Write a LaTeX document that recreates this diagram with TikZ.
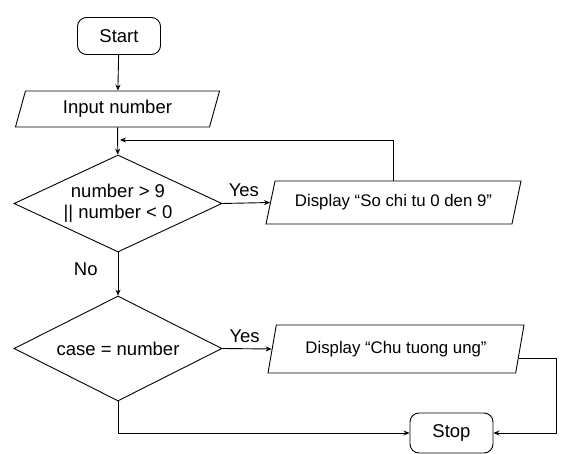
\documentclass[tikz,border=0pt]{standalone}
\usepackage{fontspec}
\setmainfont{Liberation Sans}
\usetikzlibrary{shapes.geometric,arrows.meta,calc}
\begin{document}
\begin{tikzpicture}[x=1pt,y=-1pt,
  line width=0.9pt,
  every node/.style={font=\fontsize{18.5}{21}\selectfont, inner sep=0pt},
  term/.style={draw, rectangle, rounded corners=9pt, minimum width=83pt},
  para/.style={draw, trapezium, trapezium left angle=60, trapezium right angle=120,
    trapezium stretches body},
  dec/.style={draw, diamond, minimum width=208pt, inner sep=0pt, aspect=2.1},
  small/.style={font=\fontsize{16.8}{20}\selectfont},
  arr/.style={-{Stealth[length=6pt,width=5pt]}},
  lbl/.style={font=\fontsize{18.5}{21}\selectfont}
]
\useasboundingbox (0,0) rectangle (568,454);

\node[term, minimum height=37pt] (start) at (119,36) {Start};
\node[para, minimum width=204pt, minimum height=36pt] (input) at (117.5,109) {Input number};
\node[dec, minimum height=97pt, align=center] (d1) at (118,203.5) {number > 9\\|| number < 0};
\node[para, small, minimum width=255pt, minimum height=43pt] (disp1) at (393.5,202.5) {Display “So chi tu 0 den 9”};
\node[dec, minimum height=105pt] (d2) at (118,348.5) {case = number};
\node[para, small, trapezium left angle=62, trapezium right angle=118,
  minimum width=256pt, minimum height=48pt] (disp2) at (396,349) {Display “Chu tuong ung”};
\node[term, minimum height=40pt] (stop) at (451.5,433) {Stop};

\coordinate (loopend) at (120,140);
\coordinate (rx) at (556,358);
\coordinate (dout) at ($(disp2.top right corner)!0.69!(disp2.bottom right corner)$);

\draw[arr] (start) -- (input);
\draw[arr] (input) -- (d1);
\draw[arr] (d1.east) -- node[lbl, pos=0.45, above=6pt] {Yes} (disp1.west);
\draw[arr] (disp1.north) |- (loopend);
\draw[arr] (d1.south) -- node[lbl, pos=0.39, left=20pt] {No} (d2.north);
\draw[arr] (d2.east) -- node[lbl, pos=0.45, above=6pt] {Yes} (disp2.west);
\draw[arr] (dout) -- (dout -| rx) |- (stop.east);
\draw[arr] (d2.south) |- (stop.west);
\end{tikzpicture}
\end{document}
